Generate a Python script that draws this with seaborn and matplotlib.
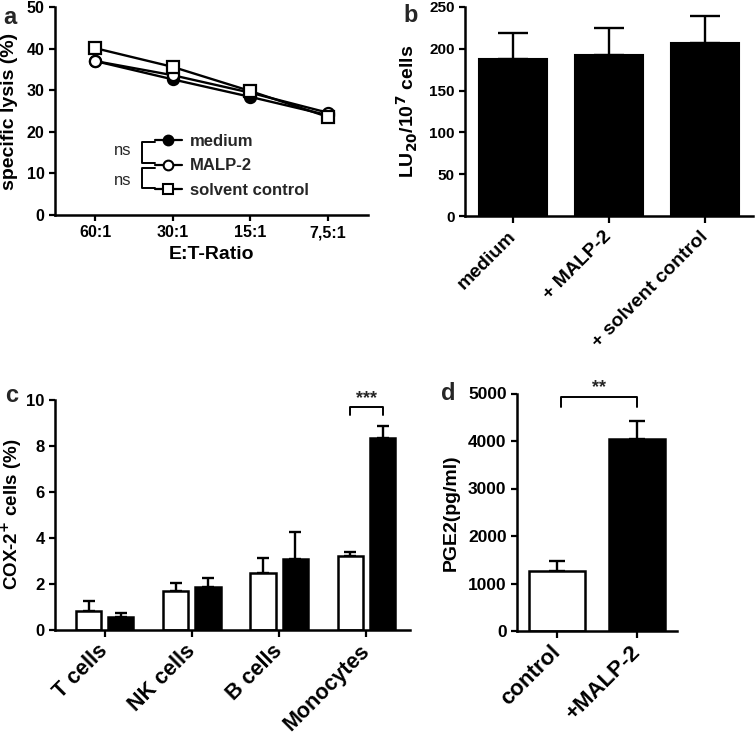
import pandas as pd
import seaborn as sns
import matplotlib.pyplot as plt
from matplotlib.lines import Line2D

# panel a: specific lysis (%) per E:T ratio
ratios = ["60:1", "30:1", "15:1", "7,5:1"]
lysis_medium = [37.0, 32.6, 28.4, 24.0]
lysis_malp = [37.0, 33.6, 29.4, 24.6]
lysis_solvent = [40.1, 35.6, 29.8, 23.6]

# panel b: lytic units
lu_groups = ["medium", "+ MALP-2", "+ solvent control"]
lu_mean = [188, 193, 207]
lu_err = [31, 32, 32]

# panel c: COX-2+ cells (%)
cell_types = ["T cells", "NK cells", "B cells", "Monocytes"]
cox_control = [0.84, 1.71, 2.49, 3.20]
cox_control_err = [0.42, 0.33, 0.62, 0.20]
cox_malp = [0.55, 1.88, 3.08, 8.34]
cox_malp_err = [0.17, 0.36, 1.16, 0.52]

# panel d: PGE2
pge_groups = ["control", "+MALP-2"]
pge_mean = [1270, 4042]
pge_err = [204, 379]

sns.set_style("ticks")
plt.rcParams["font.family"] = ["Liberation Sans", "DejaVu Sans"]
plt.rcParams["font.weight"] = "bold"
plt.rcParams["axes.labelweight"] = "bold"
plt.rcParams["axes.linewidth"] = 1.8
plt.rcParams["xtick.major.width"] = 1.6
plt.rcParams["ytick.major.width"] = 1.6
plt.rcParams["xtick.major.size"] = 4
plt.rcParams["ytick.major.size"] = 4
plt.rcParams["axes.edgecolor"] = "black"
plt.rcParams["xtick.color"] = "black"
plt.rcParams["ytick.color"] = "black"
plt.rcParams["axes.labelcolor"] = "black"

W, H = 755, 740
fig = plt.figure(figsize=(W / 100, H / 100), dpi=100)


def px_axes(left, right, top, bottom):
    return fig.add_axes([left / W, 1 - bottom / H, (right - left) / W, (bottom - top) / H])


def add_errors(ax, means, errs, capsize):
    xs = [p.get_x() + p.get_width() / 2 for p in ax.patches]
    ax.errorbar(xs, means, yerr=[[0] * len(errs), errs], fmt="none", ecolor="black",
                elinewidth=1.7, capsize=capsize, capthick=1.7, zorder=1)


def rotate_labels(ax):
    plt.setp(ax.get_xticklabels(), rotation=45, ha="right", va="center",
             rotation_mode="anchor")


ax_a = px_axes(55, 368, 7, 215)
ax_b = px_axes(465, 753, 7, 216)
ax_c = px_axes(55, 410, 399.6, 630)
ax_d = px_axes(517, 677, 393.5, 631)

# ---- a ----
series = [("medium", lysis_medium, "o", "black", 8),
          ("MALP-2", lysis_malp, "o", "white", 8),
          ("solvent control", lysis_solvent, "s", "white", 8.5)]
for name, vals, mk, fc, ms in series:
    df = pd.DataFrame({"ratio": ratios, "lysis": vals})
    sns.lineplot(data=df, x="ratio", y="lysis", ax=ax_a, color="black", lw=1.7,
                 marker=mk, markerfacecolor=fc, markeredgecolor="black",
                 markeredgewidth=1.6, markersize=ms)
ax_a.set_xlim(-0.52, 3.52)
ax_a.set_ylim(0, 50)
ax_a.set_yticks(range(0, 51, 10))
ax_a.set_xlabel("E:T-Ratio", fontsize=14)
ax_a.set_ylabel("specific lysis (%)", fontsize=14)
ax_a.yaxis.set_label_coords(-0.118, 0.5)
ax_a.tick_params(labelsize=11.5)
handles = [Line2D([], [], color="black", lw=1.6, marker=mk, markerfacecolor=fc,
                  markeredgecolor="black", markeredgewidth=1.5, markersize=ms - 1)
           for _, _, mk, fc, ms in series]
ax_a.legend(handles, [s[0] for s in series], loc="upper left", bbox_to_anchor=(0.319, 0.388),
            frameon=False, borderpad=0, borderaxespad=0, handlelength=1.6,
            handletextpad=0.5, labelspacing=0.55, prop={"weight": "bold", "size": 12})
for y0, y1 in [(0.352, 0.251), (0.227, 0.128)]:
    ax_a.plot([0.3195, 0.278, 0.278, 0.3195], [y0, y0, y1, y1], color="black", lw=1.4,
              transform=ax_a.transAxes, clip_on=False)
ax_a.text(0.217, 0.309, "ns", transform=ax_a.transAxes, ha="center", va="center",
          fontsize=12, fontweight="normal")
ax_a.text(0.217, 0.168, "ns", transform=ax_a.transAxes, ha="center", va="center",
          fontsize=12, fontweight="normal")

# ---- b ----
df_b = pd.DataFrame({"group": lu_groups, "lu": lu_mean})
sns.barplot(data=df_b, x="group", y="lu", ax=ax_b, color="black", width=0.7,
            errorbar=None, edgecolor="black", linewidth=1.5, zorder=2)
add_errors(ax_b, lu_mean, lu_err, 11)
ax_b.set_xlim(-0.5, 2.5)
ax_b.set_ylim(0, 250)
ax_b.set_yticks(range(0, 251, 50))
ax_b.set_xlabel("")
ax_b.set_ylabel("LU$_{\\mathbf{20}}$/10$^{\\mathbf{7}}$ cells", fontsize=14)
ax_b.yaxis.set_label_coords(-0.156, 0.5)
ax_b.tick_params(axis="y", labelsize=11)
ax_b.tick_params(axis="x", labelsize=14, length=5, pad=8)
rotate_labels(ax_b)

# ---- c ----
df_c = pd.DataFrame({
    "cell": cell_types * 2,
    "pct": cox_control + cox_malp,
    "treatment": ["control"] * 4 + ["MALP-2"] * 4,
})
sns.barplot(data=df_c, x="cell", y="pct", hue="treatment", ax=ax_c,
            palette=["white", "black"], width=0.74, gap=0.22, errorbar=None,
            edgecolor="black", linewidth=1.8, legend=False, zorder=2)
add_errors(ax_c, cox_control + cox_malp, cox_control_err + cox_malp_err, 4.5)
ax_c.set_xlim(-0.57, 3.5)
ax_c.set_ylim(0, 10)
ax_c.set_yticks(range(0, 11, 2))
ax_c.set_xlabel("")
ax_c.set_ylabel("COX-2$^{\\mathbf{+}}$ cells (%)", fontsize=13.5)
ax_c.yaxis.set_label_coords(-0.088, 0.5)
ax_c.tick_params(axis="y", labelsize=12)
ax_c.tick_params(axis="x", labelsize=15.5, length=5, pad=8)
rotate_labels(ax_c)
xc = [p.get_x() + p.get_width() / 2 for p in ax_c.patches]
ax_c.plot([xc[3], xc[3], xc[7], xc[7]], [9.31, 9.7, 9.7, 9.31], color="black", lw=1.4,
          clip_on=False)
ax_c.text((xc[3] + xc[7]) / 2, 10.05, "***", ha="center", va="center", fontsize=13)

# ---- d ----
df_d = pd.DataFrame({"group": pge_groups, "pge": pge_mean})
sns.barplot(data=df_d, x="group", y="pge", hue="group", ax=ax_d,
            palette=["white", "black"], width=0.69, errorbar=None,
            edgecolor="black", linewidth=1.8, legend=False, zorder=2)
add_errors(ax_d, pge_mean, pge_err, 6)
ax_d.set_xlim(-0.5, 1.5)
ax_d.set_ylim(0, 5000)
ax_d.set_yticks(range(0, 5001, 1000))
ax_d.set_xlabel("")
ax_d.set_ylabel("PGE2(pg/ml)", fontsize=14)
ax_d.yaxis.set_label_coords(-0.36, 0.5)
ax_d.tick_params(axis="y", labelsize=12.5)
ax_d.tick_params(axis="x", labelsize=16, length=5, pad=8)
rotate_labels(ax_d)
ax_d.plot([0.05, 0.05, 1.0, 1.0], [4720, 4930, 4930, 4720], color="black", lw=1.4,
          clip_on=False)
ax_d.text(0.52, 5120, "**", ha="center", va="center", fontsize=13)

for ax in (ax_a, ax_b, ax_c, ax_d):
    sns.despine(ax=ax)

for x, y, s in [(10, 18, "a"), (411, 15, "b"), (12, 395, "c"), (448, 393, "d")]:
    fig.text(x / W, 1 - y / H, s, ha="center", va="center", fontsize=17, fontweight="bold")

fig.savefig("out.png", dpi=100)
